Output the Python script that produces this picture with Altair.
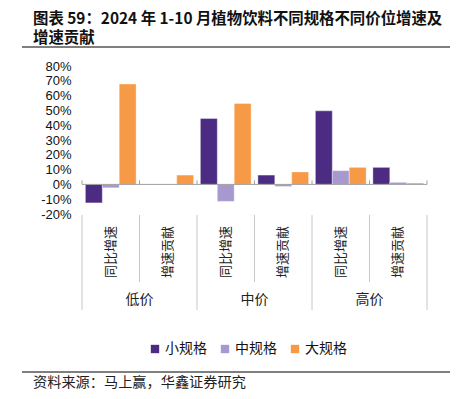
import altair as alt
import pandas as pd

groups = ["低价", "低价", "中价", "中价", "高价", "高价"]
metrics = ["同比增速", "增速贡献", "同比增速", "增速贡献", "同比增速", "增速贡献"]
series = ["小规格", "中规格", "大规格"]
small = [-12.5, 0.0, 44.5, 6.3, 49.7, 11.5]
mid = [-2.3, 0.0, -11.5, -1.4, 9.3, 1.4]
large = [67.8, 6.3, 54.7, 8.4, 11.5, 0.9]
colors = ["#4B2C82", "#A898D0", "#F79A48"]
y_ticks = [-20, -10, 0, 10, 20, 30, 40, 50, 60, 70, 80]
group_names = ["低价", "中价", "高价"]
title_lines = ["图表 59：2024 年 1-10 月植物饮料不同规格不同价位增速及", "增速贡献"]
source_text = ["资料来源：马上赢，华鑫证券研究"]

W, H = 345, 148
keys = [g + "|" + m for g, m in zip(groups, metrics)]

rows = []
for i, k in enumerate(keys):
    for s, vals in zip(series, [small, mid, large]):
        rows.append({"key": k, "series": s, "value": vals[i]})
df = pd.DataFrame(rows)

cat_df = pd.DataFrame({"key": keys, "metric": metrics, "group": groups,
                       "long": [i % 2 == 0 for i in range(len(keys))],
                       "value": [0] * len(keys)})
xscale = alt.Scale(domain=keys, paddingInner=0, paddingOuter=0)
yscale = alt.Scale(domain=[-20, 80], nice=False)
yaxis = alt.Axis(values=y_ticks, labelExpr="datum.value + '%'", domain=False, ticks=False,
                 grid=False, labelPadding=11, labelFontSize=13, labelFont="Liberation Sans",
                 labelColor="#111", title=None, labelOverlap=False, labelBound=False,
                 labelFlush=False)
Y = alt.Y("value:Q", scale=yscale, axis=yaxis)

bars = alt.Chart(df).mark_bar(stroke="white", strokeWidth=0.6, strokeOpacity=0.6).encode(
    x=alt.X("key:N", scale=xscale, axis=None),
    xOffset=alt.XOffset("series:N", scale=alt.Scale(domain=series, paddingOuter=0.2, paddingInner=0)),
    y=Y,
    color=alt.Color("series:N", scale=alt.Scale(domain=series, range=colors),
                    legend=alt.Legend(orient="none", legendX=66, legendY=276, direction="horizontal",
                                      title=None, symbolType="square", symbolSize=70,
                                      symbolStrokeWidth=0, labelFontSize=14,
                                      labelFont="Noto Sans CJK SC", labelColor="#111",
                                      columnPadding=11, labelOffset=3)),
)

zero = alt.Chart(cat_df.head(1)).mark_rule(color="#A0A0A0", strokeWidth=1).encode(
    y=Y, x=alt.value(0), x2=alt.value(W))

zero_ticks = alt.Chart(cat_df).mark_rule(color="#A0A0A0", yOffset=-4).encode(
    x=alt.X("key:N", scale=xscale, bandPosition=0, axis=None), y=Y, y2="value:Q")
zero_tick_end = alt.Chart(cat_df.tail(1)).mark_rule(color="#A0A0A0", yOffset=-4).encode(
    x=alt.X("key:N", scale=xscale, bandPosition=1, axis=None), y=Y, y2="value:Q")

sep_long = alt.Chart(cat_df[cat_df["long"]]).mark_rule(color="#C8C8C8").encode(
    x=alt.X("key:N", scale=xscale, bandPosition=0, axis=None), y=alt.value(149), y2=alt.value(244))
sep_short = alt.Chart(cat_df[~cat_df["long"]]).mark_rule(color="#C8C8C8").encode(
    x=alt.X("key:N", scale=xscale, bandPosition=0, axis=None), y=alt.value(149), y2=alt.value(216))
sep_end = alt.Chart(cat_df.tail(1)).mark_rule(color="#C8C8C8").encode(
    x=alt.X("key:N", scale=xscale, bandPosition=1, axis=None), y=alt.value(149), y2=alt.value(244))

cat_labels = alt.Chart(cat_df).mark_text(angle=270, align="center", baseline="middle",
                                         fontSize=13, font="Noto Sans CJK SC", color="#222").encode(
    x=alt.X("key:N", scale=xscale, axis=None), y=alt.value(186), text="metric:N")

grp_df = pd.DataFrame({"key": [keys[0], keys[2], keys[4]], "group": group_names})
grp_labels = alt.Chart(grp_df).mark_text(align="center", baseline="middle", fontSize=14,
                                         font="Noto Sans CJK SC", color="#222").encode(
    x=alt.X("key:N", scale=xscale, bandPosition=1, axis=None), y=alt.value(234), text="group:N")

t1 = alt.Chart(pd.DataFrame({"t": [title_lines[0]]})).mark_text(
    align="left", baseline="middle", fontSize=15.4, fontWeight="bold", font="Noto Sans CJK SC",
    color="#111").encode(x=alt.value(-49), y=alt.value(-47.5), text="t:N")
t2 = alt.Chart(pd.DataFrame({"t": [title_lines[1]]})).mark_text(
    align="left", baseline="middle", fontSize=15.4, fontWeight="bold", font="Noto Sans CJK SC",
    color="#111").encode(x=alt.value(-49), y=alt.value(-28.5), text="t:N")
top_line = alt.Chart(pd.DataFrame({"a": [0]})).mark_rule(color="#555", strokeWidth=1.5).encode(
    x=alt.value(-60), x2=alt.value(373), y=alt.value(-19))
bot_line = alt.Chart(pd.DataFrame({"a": [0]})).mark_rule(color="#555", strokeWidth=1.5).encode(
    x=alt.value(-60), x2=alt.value(373), y=alt.value(306))
src = alt.Chart(pd.DataFrame({"t": source_text})).mark_text(
    align="left", baseline="middle", fontSize=14.2, font="Noto Sans CJK SC", color="#222").encode(
    x=alt.value(-49), y=alt.value(317), text="t:N")

chart = alt.layer(
    bars, zero, zero_ticks, zero_tick_end, sep_long, sep_short, sep_end,
    cat_labels, grp_labels, t1, t2, top_line, bot_line, src
).properties(
    width=W, height=H,
    autosize=alt.AutoSizeParams(type="none"),
    padding={"left": 74, "top": 58, "right": 23, "bottom": 177},
).configure_view(stroke=None).configure_axisY(labelOverlap=False)

chart.save("out.html", embed_options={"renderer": "svg", "actions": False})
